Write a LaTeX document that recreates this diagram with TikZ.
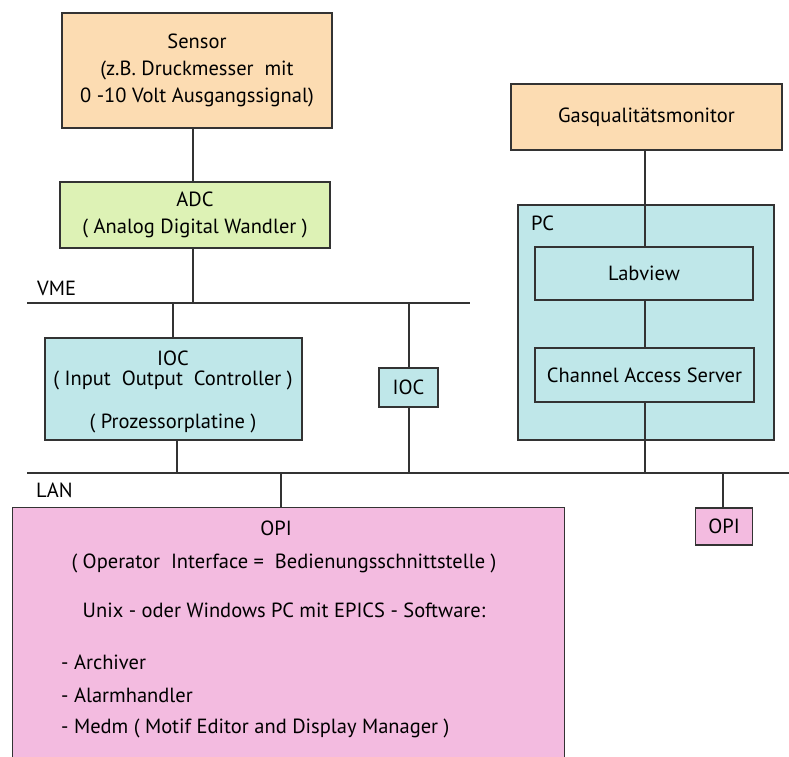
\documentclass[tikz,border=0pt]{standalone}
\usepackage{fontspec}
\setmainfont{PT Sans}
\definecolor{peach}{HTML}{FCDCB2}
\definecolor{lgreen}{HTML}{DDF2B5}
\definecolor{lcyan}{HTML}{BFE7E9}
\definecolor{lpink}{HTML}{F3BBE0}
\definecolor{linec}{HTML}{333333}
\tikzset{
  box/.style={draw=linec, line width=1.3pt, inner sep=0pt, align=center, font=\fontsize{20.5}{27}\selectfont},
  txt/.style={inner sep=0pt, font=\fontsize{20.5}{27}\selectfont},
  wire/.style={draw=linec, line width=1.3pt},
}
\begin{document}
\begin{tikzpicture}[x=1pt,y=-1pt]
\useasboundingbox (0,0) rectangle (789,756);
\clip (0,0) rectangle (789,756);
\fill[white] (0,0) rectangle (789,756);
% sensor
\node[box, fill=peach, minimum width=270pt, minimum height=115pt] (sensor) at (197,70.5)
  {Sensor\\(z.B. Druckmesser\ \ mit\\0 -10 Volt Ausgangssignal)};
\node[box, fill=lgreen, minimum width=270pt, minimum height=66pt] (adc) at (195,215)
  {ADC\\( Analog Digital Wandler )};
% buses
\coordinate (vmeL) at (27,303);
\coordinate (vmeR) at (470,303);
\coordinate (lanL) at (27,473);
\coordinate (lanR) at (789,473);
\draw[wire] (vmeL) -- (vmeR);
\draw[wire] (lanL) -- (lanR);
\node[txt, anchor=west] (vme) at (37,288) {VME};
\node[txt, anchor=west] (lan) at (36,490) {LAN};
% IOC big
\node[box, fill=lcyan, minimum width=257pt, minimum height=102pt] (ioc) at (173.5,389) {};
\node[txt] (iocA) at (173,358) {IOC};
\node[txt] (iocB) at (173,380) {( Input\ \ Output\ \ Controller )};
\node[txt] (iocC) at (173,423) {( Prozessorplatine )};
% IOC small
\node[box, fill=lcyan, minimum width=59pt, minimum height=39pt] (ioc2) at (408.5,387.5) {IOC};
% PC
\node[box, fill=lcyan, minimum width=256pt, minimum height=235pt] (pc) at (646,322.5) {};
\node[txt, anchor=west] (pclbl) at (531,223) {PC};
\node[box, fill=peach, minimum width=271pt, minimum height=66pt] (gas) at (646.5,117) {Gasqualitätsmonitor};
\node[box, fill=lcyan, minimum width=218pt, minimum height=53pt] (lab) at (644,273.5) {Labview};
\node[box, fill=lcyan, minimum width=219pt, minimum height=54pt] (cas) at (644.5,375) {Channel Access Server};
% OPI big
\node[box, fill=lpink, minimum width=552pt, minimum height=253pt, anchor=north west] (opi) at (12,507) {};
\node[txt] (opiA) at (276,528) {OPI};
\node[txt] (opiB) at (284,563) {( Operator\ \ Interface =\ \ Bedienungsschnittstelle )};
\node[txt] (opiC) at (284,610) {Unix - oder Windows PC mit EPICS - Software:};
\node[txt, anchor=west] (opiD) at (61,662) {- Archiver};
\node[txt, anchor=west] (opiE) at (61,695) {- Alarmhandler};
\node[txt, anchor=west] (opiF) at (61,728) {- Medm ( Motif Editor and Display Manager )};
% OPI small
\node[box, fill=lpink, minimum width=57pt, minimum height=37pt] (opi2) at (724,526.5) {OPI};
% connectors
\coordinate (jA) at (193,303);
\coordinate (jB) at (173,303);
\coordinate (jC) at (177,473);
\coordinate (jD) at (409,303);
\coordinate (jE) at (409,473);
\coordinate (jF) at (645,473);
\coordinate (jG) at (281,473);
\coordinate (jH) at (723,473);
\draw[wire] (sensor.south -| jA) -- (adc.north -| jA);
\draw[wire] (adc.south -| jA) -- (jA);
\draw[wire] (jB) -- (ioc.north -| jB);
\draw[wire] (ioc.south -| jC) -- (jC);
\draw[wire] (jD) -- (ioc2.north -| jD);
\draw[wire] (ioc2.south -| jE) -- (jE);
\draw[wire] (gas.south -| jF) -- (lab.north -| jF);
\draw[wire] (lab.south -| jF) -- (cas.north -| jF);
\draw[wire] (cas.south -| jF) -- (jF);
\draw[wire] (jG) -- (opi.north -| jG);
\draw[wire] (jH) -- (opi2.north -| jH);
\end{tikzpicture}
\end{document}
